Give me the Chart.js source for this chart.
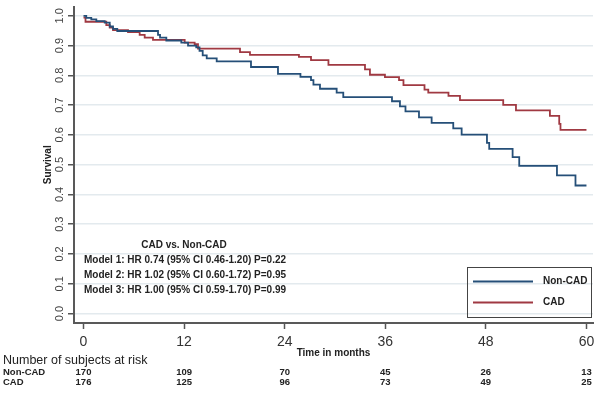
<!DOCTYPE html>
<html>
<head>
<meta charset="utf-8">
<script src="https://cdn.jsdelivr.net/npm/chart.js@4.4.1/dist/chart.umd.min.js"></script>
<style>
  body { margin: 0; background: #fff; }
  canvas { display: block; }
</style>
</head>
<body>
<canvas id="km-chart" width="600" height="397"></canvas>
<script>
const FONT = "'Liberation Sans', Arial, sans-serif";

// Kaplan-Meier steps (time in months, survival after the drop)
const nonCadTime = [0, 0.33, 0.93, 1.53, 2.53, 3.13, 3.52, 4.03, 8.89, 9.13, 9.88, 11.67, 12.47, 13.45, 13.84, 14.22,
    14.70, 15.89, 19.98, 23.20, 25.88, 27.14, 27.43, 28.21, 30.20, 30.99, 36.80, 37.75, 38.41, 40.02, 41.53,
    44.11, 45.11, 48.13, 48.40, 51.19, 51.98, 56.48, 58.69, 60];
const nonCadSurv = [1.000, 0.993, 0.988, 0.982, 0.977, 0.964, 0.956, 0.949, 0.936, 0.927, 0.917, 0.910, 0.900, 0.894, 0.882, 0.867,
    0.857, 0.847, 0.828, 0.805, 0.795, 0.784, 0.769, 0.755, 0.742, 0.727, 0.713, 0.696, 0.679, 0.659, 0.640,
    0.622, 0.601, 0.573, 0.553, 0.525, 0.496, 0.464, 0.430, 0.430];

const cadTime = [0, 0.24, 2.72, 3.13, 3.52, 5.31, 6.70, 7.30, 8.29, 12.07, 13.26, 13.66, 18.67, 19.86, 25.70, 27.14,
    29.22, 33.58, 34.17, 35.96, 37.64, 38.17, 40.68, 41.13, 43.54, 44.91, 50.07, 51.59, 55.64, 56.75, 56.90, 60];
const cadSurv = [0.994, 0.980, 0.969, 0.960, 0.952, 0.945, 0.936, 0.927, 0.919, 0.910, 0.905, 0.890, 0.878, 0.869, 0.862, 0.851,
    0.835, 0.820, 0.802, 0.794, 0.784, 0.767, 0.752, 0.742, 0.731, 0.717, 0.701, 0.682, 0.664, 0.637, 0.617, 0.617];

const xTicks = [0, 12, 24, 36, 48, 60];
const yTicks = [0, 0.1, 0.2, 0.3, 0.4, 0.5, 0.6, 0.7, 0.8, 0.9, 1.0];

// Numbers at risk
const groupNames = ['Non-CAD', 'CAD'];
const riskNonCad = [170, 109, 70, 45, 26, 13];
const riskCad = [176, 125, 96, 73, 49, 25];

const annotationTitle = 'CAD vs. Non-CAD';
const modelLines = [
    'Model 1: HR 0.74 (95% CI 0.46-1.20) P=0.22',
    'Model 2: HR 1.02 (95% CI 0.60-1.72) P=0.95',
    'Model 3: HR 1.00 (95% CI 0.59-1.70) P=0.99'
];

const BLUE = '#254f78';
const RED = '#a03942';

function toPoints(times, values) {
    return times.map((t, i) => ({ x: t, y: values[i] }));
}

// Texts, legend box and risk table
const extrasPlugin = {
    id: 'extras',
    afterDraw(chart) {
        const ctx = chart.ctx;
        const xs = chart.scales.x;
        ctx.save();
        ctx.fillStyle = '#222';
        ctx.textBaseline = 'middle';

        ctx.font = 'bold 10px ' + FONT;
        ctx.textAlign = 'center';
        ctx.fillText(annotationTitle, 184, 245);
        ctx.textAlign = 'left';
        modelLines.forEach((line, i) => ctx.fillText(line, 84, 260 + i * 15.3));

        // legend
        ctx.strokeStyle = '#444';
        ctx.lineWidth = 1;
        ctx.strokeRect(467.5, 267.5, 124, 50);
        chart.data.datasets.forEach((ds, i) => {
            const y = 281.5 + i * 21;
            ctx.strokeStyle = ds.borderColor;
            ctx.lineWidth = 1.8;
            ctx.beginPath();
            ctx.moveTo(473, y);
            ctx.lineTo(533, y);
            ctx.stroke();
            ctx.fillStyle = '#222';
            ctx.fillText(ds.label, 543, y);
        });

        // risk table
        ctx.fillStyle = '#222';
        ctx.font = '12.5px ' + FONT;
        ctx.textAlign = 'left';
        ctx.fillText('Number of subjects at risk', 3, 361);
        ctx.font = 'bold 9.5px ' + FONT;
        [riskNonCad, riskCad].forEach((counts, gi) => {
            const y = 372.3 + gi * 10.4;
            ctx.textAlign = 'left';
            ctx.fillText(groupNames[gi], 3, y);
            ctx.textAlign = 'center';
            counts.forEach((n, i) => ctx.fillText(String(n), xs.getPixelForValue(xTicks[i]), y));
        });
        ctx.restore();
    }
};

new Chart(document.getElementById('km-chart'), {
    type: 'line',
    data: {
        datasets: [{
            label: 'Non-CAD',
            data: toPoints(nonCadTime, nonCadSurv),
            borderColor: BLUE,
            borderWidth: 1.8,
            stepped: true,
            pointRadius: 0,
            fill: false
        }, {
            label: 'CAD',
            data: toPoints(cadTime, cadSurv),
            borderColor: RED,
            borderWidth: 1.8,
            stepped: true,
            pointRadius: 0,
            fill: false
        }]
    },
    options: {
        responsive: false,
        animation: false,
        events: [],
        layout: { padding: { left: 0, top: 3, right: 7, bottom: 0 } },
        plugins: {
            legend: { display: false },
            tooltip: { enabled: false }
        },
        scales: {
            x: {
                type: 'linear',
                min: -1.133,
                max: 60.78,
                afterBuildTicks: scale => { scale.ticks = xTicks.map(v => ({ value: v })); },
                afterFit: scale => { scale.height = 74; },
                grid: { drawOnChartArea: false, tickLength: 6, tickColor: '#555', tickWidth: 1.5 },
                border: { color: '#595959', width: 2 },
                ticks: {
                    autoSkip: false,
                    maxRotation: 0,
                    padding: 5,
                    color: '#333',
                    font: { family: FONT, size: 14 }
                },
                title: {
                    display: true,
                    text: 'Time in months',
                    color: '#222',
                    font: { family: FONT, size: 10, weight: 'bold', lineHeight: 1.2 },
                    padding: { top: 0, bottom: 38 }
                }
            },
            y: {
                min: -0.0319,
                max: 1.0309,
                afterBuildTicks: scale => { scale.ticks = yTicks.map(v => ({ value: v })); },
                afterFit: scale => { scale.width = 74; },
                grid: { color: '#e3eaee', lineWidth: 1.5, tickLength: 6, tickColor: '#555', tickWidth: 1.5 },
                border: { color: '#595959', width: 2 },
                ticks: {
                    autoSkip: false,
                    minRotation: 90,
                    maxRotation: 90,
                    crossAlign: 'center',
                    padding: 0,
                    color: '#444',
                    font: { family: FONT, size: 11 },
                    callback: value => value.toFixed(1)
                },
                title: {
                    display: true,
                    text: 'Survival',
                    color: '#222',
                    font: { family: FONT, size: 10, weight: 'bold', lineHeight: 1.2 },
                    padding: { top: 42, bottom: 0 }
                }
            }
        }
    },
    plugins: [extrasPlugin]
});
</script>
</body>
</html>
